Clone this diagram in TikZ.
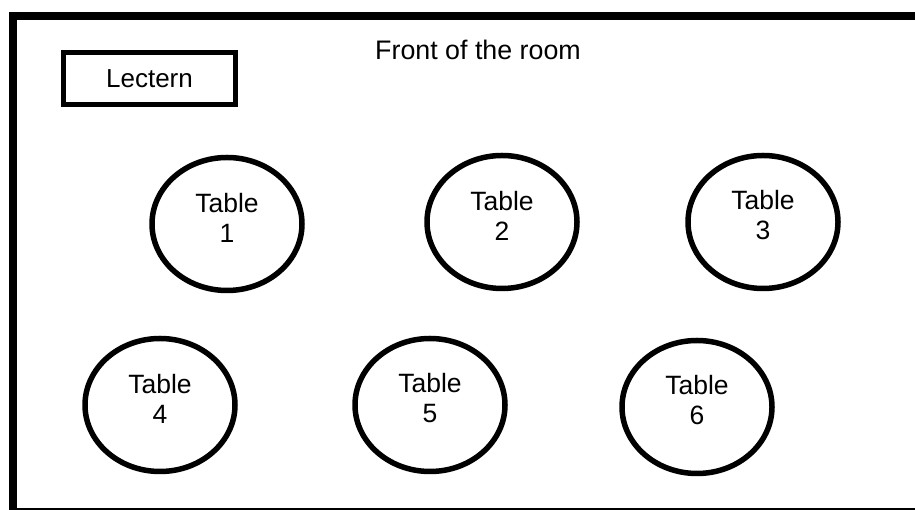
\documentclass[tikz,border=0pt]{standalone}
\usepackage{fontspec}
\setmainfont{Liberation Sans}
\usetikzlibrary{shapes.geometric}
\begin{document}
\begin{tikzpicture}[x=1pt, y=1pt,
  tbl/.style={draw, ellipse, line width=5.5pt, minimum width=150pt, minimum height=133pt},
  tbltext/.style={align=center, font=\fontsize{26.5}{30}\selectfont, yshift=6.5pt}]
\useasboundingbox (0,0) rectangle (915,510);
\clip (0,0) rectangle (915,510);
% Room walls
\draw[line width=8pt] (12.5,494) rectangle (930,-2.5);
% Front
\node[font=\fontsize{26.8}{30}\selectfont] (front) at (478,460) {Front of the room};
\node[draw, line width=5.5pt, minimum width=172pt, minimum height=52pt,
  font=\fontsize{26}{30}\selectfont] (lectern) at (149.5,431.5) {Lectern};
% Tables
\foreach \n/\x/\y in {1/227/286, 2/502/288, 3/763/288, 4/160/105, 5/430/105, 6/697/103}{
  \node[tbl] (t\n) at (\x,\y) {};
  \node[tbltext] (l\n) at (t\n) {Table\\\n};
}
\end{tikzpicture}
\end{document}
